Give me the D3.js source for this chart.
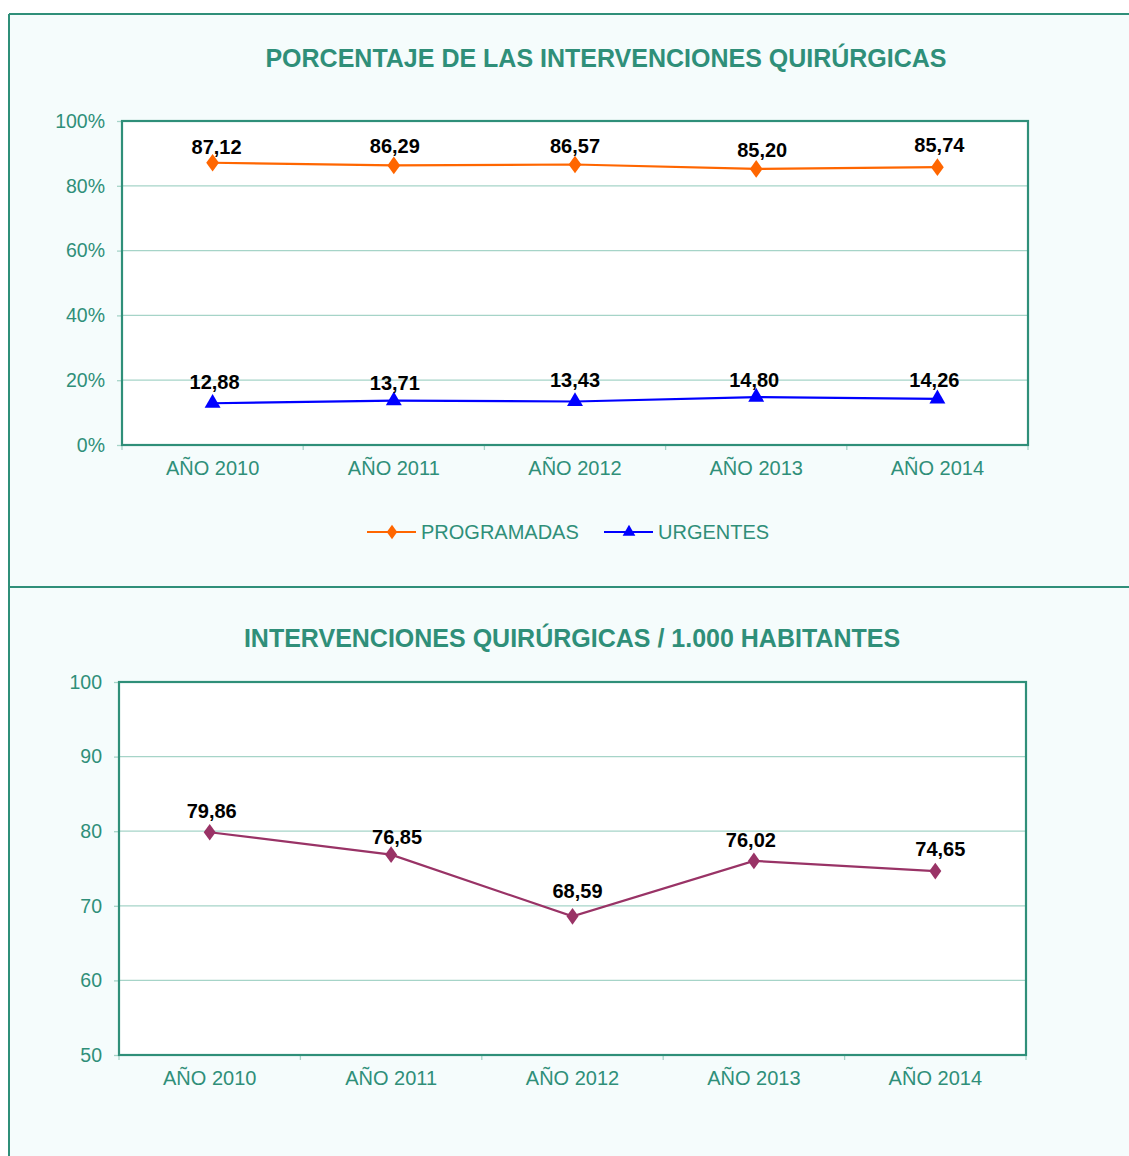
<!DOCTYPE html>
<html><head><meta charset="utf-8">
<script src="https://cdn.jsdelivr.net/npm/d3@7"></script>
<style>body{margin:0;background:#fff;font-family:"Liberation Sans",Arial,sans-serif}</style>
</head><body><svg id="c" width="1129" height="1156"></svg>
<script>
const categories = ["AÑO 2010","AÑO 2011","AÑO 2012","AÑO 2013","AÑO 2014"];
const programadas = [87.12, 86.29, 86.57, 85.20, 85.74];
const urgentes = [12.88, 13.71, 13.43, 14.80, 14.26];
const perHab = [79.86, 76.85, 68.59, 76.02, 74.65];
const pctTicks = [0,20,40,60,80,100];
const habTicks = [50,60,70,80,90,100];
const title1 = "PORCENTAJE DE LAS INTERVENCIONES QUIRÚRGICAS";
const title2 = "INTERVENCIONES QUIRÚRGICAS / 1.000 HABITANTES";

const TEAL = "#2f8f79", GRID = "#a6d4c8", BG = "#f5fcfc";
const fmt = v => v.toFixed(2).replace(".", ",");
const svg = d3.select("#c");

// frame background
svg.append("rect").attr("x",9).attr("y",14).attr("width",1120).attr("height",1142).attr("fill",BG);
svg.append("line").attr("x1",9).attr("x2",1129).attr("y1",14).attr("y2",14).attr("stroke",TEAL).attr("stroke-width",2);
svg.append("line").attr("x1",9).attr("x2",9).attr("y1",14).attr("y2",1156).attr("stroke",TEAL).attr("stroke-width",2);
svg.append("line").attr("x1",9).attr("x2",1129).attr("y1",587).attr("y2",587).attr("stroke",TEAL).attr("stroke-width",2);

function chart(cfg){
  const g = svg.append("g");
  const x = d3.scaleBand().domain(categories).range([cfg.x0,cfg.x1]);
  const y = d3.scaleLinear().domain(cfg.domain).range([cfg.y1,cfg.y0]);
  g.append("text").attr("x",cfg.tx).attr("y",cfg.ty).attr("text-anchor","middle")
    .attr("dominant-baseline","central").attr("font-weight","bold").attr("font-size",25)
    .attr("fill",TEAL).text(cfg.title);
  g.append("rect").attr("x",cfg.x0).attr("y",cfg.y0).attr("width",cfg.x1-cfg.x0).attr("height",cfg.y1-cfg.y0).attr("fill","#fff");
  // gridlines
  g.selectAll(".gl").data(cfg.ticks.slice(1,-1)).join("line")
    .attr("x1",cfg.x0).attr("x2",cfg.x1).attr("y1",d=>y(d)).attr("y2",d=>y(d))
    .attr("stroke",GRID).attr("stroke-width",1.3);
  // y axis
  const ya = g.append("g").attr("transform",`translate(${cfg.x0},0)`)
    .call(d3.axisLeft(y).tickValues(cfg.ticks).tickSize(5).tickPadding(12).tickFormat(cfg.yfmt));
  ya.select(".domain").remove();
  ya.selectAll("line").attr("stroke",GRID).attr("stroke-width",1.3);
  ya.selectAll("text").attr("fill",TEAL).attr("font-size",19.5).attr("font-family","Liberation Sans, Arial, sans-serif");
  // x axis
  const xa = g.append("g").attr("transform",`translate(0,${cfg.y1})`)
    .call(d3.axisBottom(x).tickSize(0).tickPadding(16));
  xa.select(".domain").remove();
  xa.selectAll("text").attr("fill",TEAL).attr("font-size",20).attr("font-family","Liberation Sans, Arial, sans-serif");
  const edges = d3.range(categories.length+1).map(i=>cfg.x0+i*x.step());
  g.selectAll(".xt").data(edges).join("line").attr("x1",d=>d).attr("x2",d=>d)
    .attr("y1",cfg.y1).attr("y2",cfg.y1+5).attr("stroke",GRID).attr("stroke-width",1.3);
  // frame border
  g.append("rect").attr("x",cfg.x0).attr("y",cfg.y0).attr("width",cfg.x1-cfg.x0).attr("height",cfg.y1-cfg.y0)
    .attr("fill","none").attr("stroke",TEAL).attr("stroke-width",2.2);
  cfg.series.forEach(s=>{
    const line = d3.line().x((d,i)=>x(categories[i])+x.bandwidth()/2).y(d=>y(d));
    g.append("path").attr("d",line(s.values)).attr("fill","none").attr("stroke",s.color).attr("stroke-width",2.2);
    const sym = d3.symbol().type(s.symbol).size(s.size);
    g.selectAll(null).data(s.values).join("path")
      .attr("transform",(d,i)=>`translate(${x(categories[i])+x.bandwidth()/2},${y(d)})${s.symbol===d3.symbolDiamond?" scale(1.25,1)":""}`)
      .attr("d",sym).attr("fill",s.color);
    g.selectAll(null).data(s.values).join("text")
      .attr("x",(d,i)=>x(categories[i])+x.bandwidth()/2+(s.dx?s.dx[i]:4))
      .attr("y",(d,i)=>y(d)-(s.dy?s.dy[i]:18))
      .attr("dominant-baseline","central")
      .attr("text-anchor","middle").attr("font-weight","bold").attr("font-size",20).attr("fill","#000")
      .text(d=>fmt(d));
  });
  return {x,y};
}

chart({x0:122,x1:1028,y0:121,y1:445,domain:[0,100],ticks:pctTicks,yfmt:d=>d+"%",
  title:title1,tx:606,ty:58,
  series:[
    {values:programadas,color:"#ff6600",symbol:d3.symbolDiamond,size:90,dy:[16,19,19,19,22],dx:[4,1,0,6,2]},
    {values:urgentes,color:"#0000ff",symbol:d3.symbolTriangle,size:110,dy:[21,18,21,17,19],dx:[2,1,0,-2,-3]}
  ]});

chart({x0:119,x1:1026,y0:682,y1:1055,domain:[50,100],ticks:habTicks,yfmt:d=>d,
  title:title2,tx:572,ty:638,
  series:[
    {values:perHab,color:"#993366",symbol:d3.symbolDiamond,size:80,dy:[21,18,25,21,22],dx:[2,6,5,-3,5]}
  ]});

// legend
const lg = svg.append("g");
const legendItems = [
  {name:"PROGRAMADAS",color:"#ff6600",symbol:d3.symbolDiamond,size:60,x:367},
  {name:"URGENTES",color:"#0000ff",symbol:d3.symbolTriangle,size:70,x:604}
];
legendItems.forEach(it=>{
  lg.append("line").attr("x1",it.x).attr("x2",it.x+49).attr("y1",532).attr("y2",532).attr("stroke",it.color).attr("stroke-width",2.2);
  lg.append("path").attr("d",d3.symbol().type(it.symbol).size(it.size)()).attr("fill",it.color)
    .attr("transform",`translate(${it.x+25},532)${it.symbol===d3.symbolDiamond?" scale(1.25,1)":""}`);
  lg.append("text").attr("x",it.x+54).attr("y",532).attr("dominant-baseline","central")
    .attr("font-size",20).attr("fill",TEAL).text(it.name);
});
</script></body></html>
